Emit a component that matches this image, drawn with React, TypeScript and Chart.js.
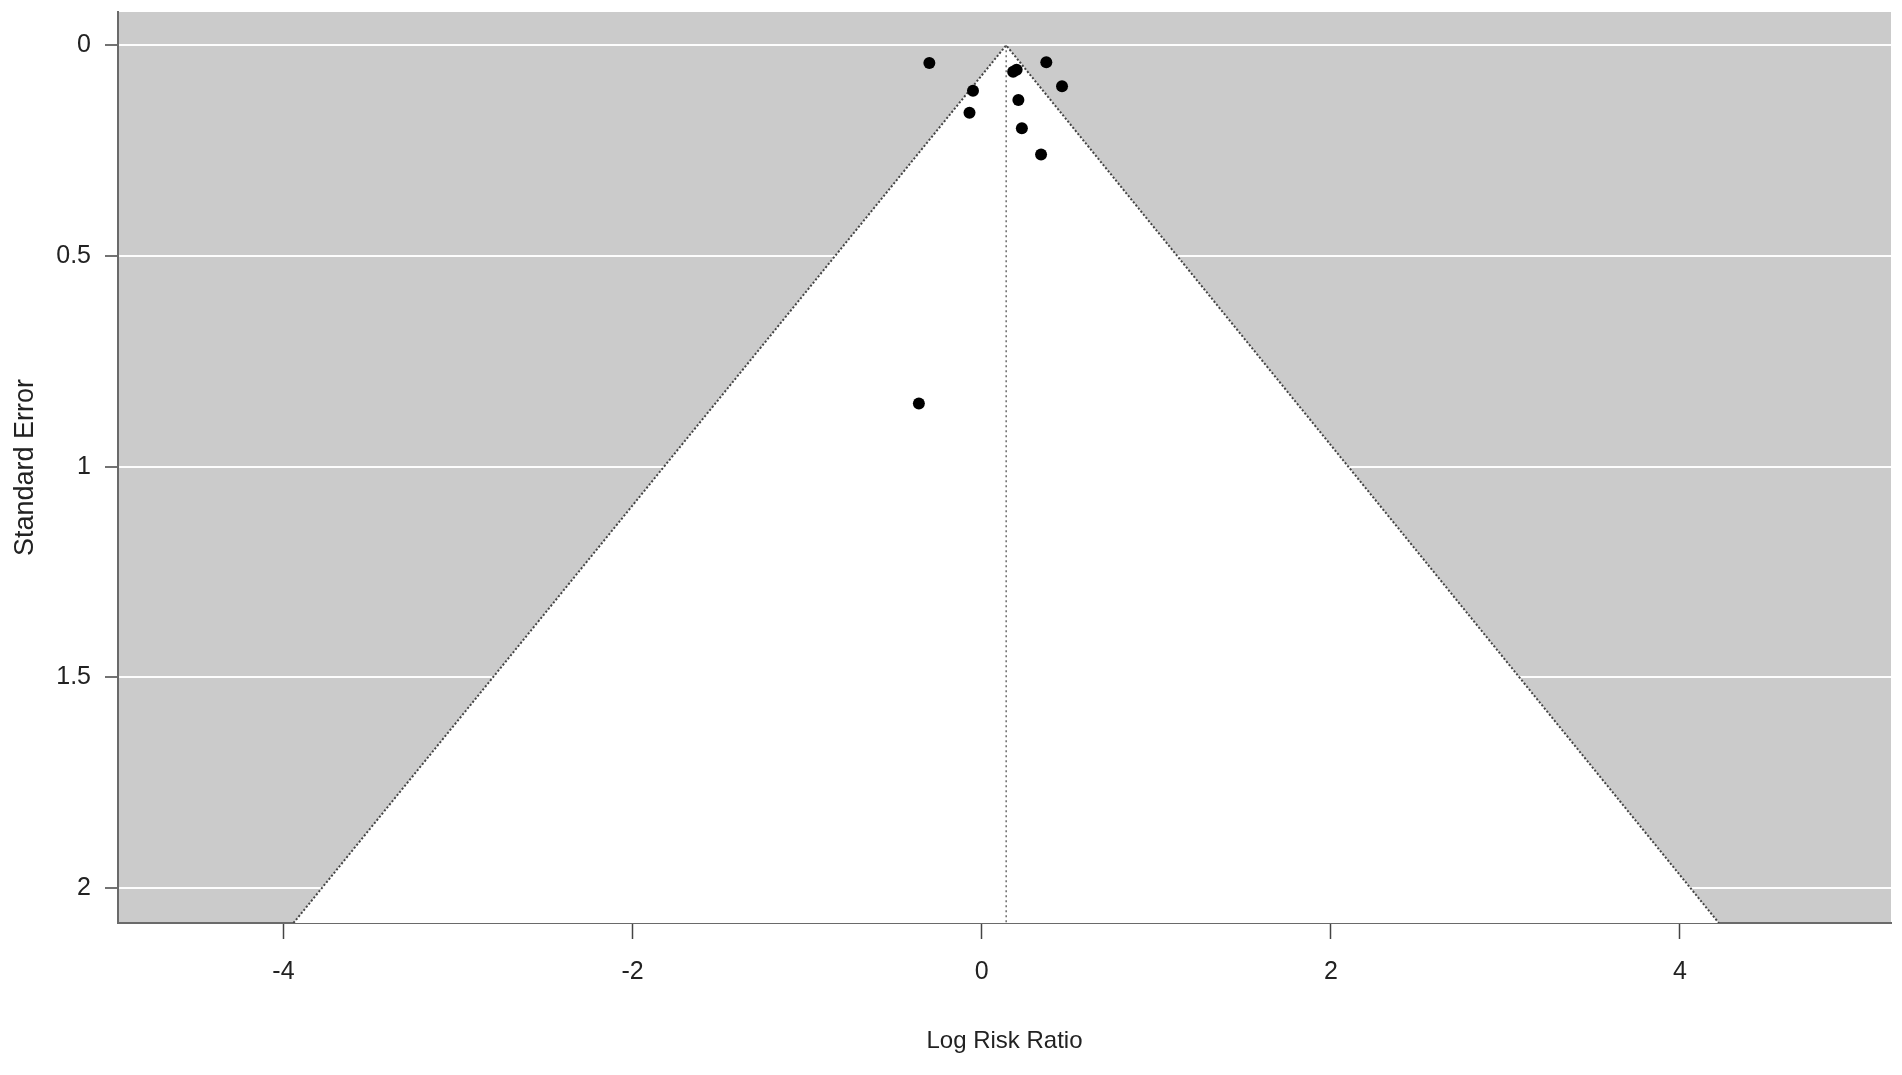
import React, { useEffect, useRef } from 'react';
import { Chart, registerables } from 'chart.js';

Chart.register(...registerables);

// Study estimates
const LOG_RISK_RATIO = [-0.3, 0.37, 0.18, 0.2, 0.46, -0.05, -0.07, 0.21, 0.23, 0.34, -0.36];
const STANDARD_ERROR = [0.042, 0.04, 0.063, 0.058, 0.097, 0.108, 0.16, 0.13, 0.197, 0.259, 0.85];

const X_TICKS = [-4, -2, 0, 2, 4];
const Y_TICKS = [0, 0.5, 1, 1.5, 2];
const X_LABELS = ['-4', '-2', '0', '2', '4'];
const Y_LABELS = ['0', '0.5', '1', '1.5', '2'];

const POOLED_ESTIMATE = 0.14;
const Z_CRIT = 1.96;
const X_MIN = -4.948;
const X_MAX = 5.209;
const Y_MIN = -0.079;
const Y_MAX = 2.083;

const FONT = "'Liberation Sans Narrow', 'Liberation Sans', Arial, sans-serif";

const bgPlugin = {
  id: 'plotBg',
  beforeDraw(chart: any) {
    const { ctx, chartArea: a, width, height } = chart;
    ctx.save();
    ctx.fillStyle = '#ffffff';
    ctx.fillRect(0, 0, width, height);
    ctx.fillStyle = '#cbcbcb';
    ctx.fillRect(a.left, a.top, a.right - a.left, a.bottom - a.top);
    ctx.restore();
  },
};

export default function App() {
  const ref = useRef<HTMLCanvasElement | null>(null);

  useEffect(() => {
    if (!ref.current) return;
    const points = LOG_RISK_RATIO.map((x, i) => ({ x, y: STANDARD_ERROR[i] }));
    const funnel = [
      { x: POOLED_ESTIMATE - Z_CRIT * Y_MAX, y: Y_MAX },
      { x: POOLED_ESTIMATE, y: 0 },
      { x: POOLED_ESTIMATE + Z_CRIT * Y_MAX, y: Y_MAX },
    ];
    const centerLine = [
      { x: POOLED_ESTIMATE, y: 0 },
      { x: POOLED_ESTIMATE, y: Y_MAX },
    ];

    const chart = new Chart(ref.current, {
      type: 'scatter',
      data: {
        datasets: [
          {
            label: 'Studies',
            data: points,
            backgroundColor: '#000000',
            borderWidth: 0,
            pointRadius: 6,
            pointHoverRadius: 6,
            order: 0,
          },
          {
            label: 'Center',
            data: centerLine,
            showLine: true,
            borderColor: '#555555',
            borderWidth: 1.3,
            borderDash: [2, 3],
            pointRadius: 0,
            fill: false,
            order: 1,
          },
          {
            label: 'Funnel',
            data: funnel,
            showLine: true,
            borderColor: '#444444',
            borderWidth: 2,
            borderDash: [2, 2],
            backgroundColor: '#ffffff',
            pointRadius: 0,
            fill: 'shape',
            tension: 0,
            order: 2,
          } as any,
        ],
      },
      options: {
        animation: false,
        responsive: true,
        maintainAspectRatio: false,
        layout: { padding: { top: 12, right: 11, left: 0, bottom: 0 } },
        plugins: {
          legend: { display: false },
          tooltip: { enabled: false },
        },
        scales: {
          x: {
            type: 'linear',
            min: X_MIN,
            max: X_MAX,
            afterBuildTicks: (scale: any) => {
              scale.ticks = X_TICKS.map((v) => ({ value: v }));
            },
            afterFit: (scale: any) => {
              scale.height = 152;
              scale.paddingLeft = 0;
              scale.paddingRight = 0;
            },
            ticks: {
              callback: (v: any) => X_LABELS[X_TICKS.indexOf(Number(v))] ?? '',
              font: { family: FONT, size: 25 },
              color: '#222222',
              padding: 18,
              maxRotation: 0,
              autoSkip: false,
            },
            grid: {
              drawOnChartArea: false,
              drawTicks: true,
              tickLength: 16,
              tickColor: '#444444',
              tickWidth: 1.5,
            },
            border: { display: true, color: '#6a6a6a', width: 2 },
            title: {
              display: true,
              text: 'Log Risk Ratio',
              font: { family: FONT, size: 24 },
              color: '#222222',
              padding: { top: 0, bottom: 19 },
            },
          },
          y: {
            type: 'linear',
            reverse: true,
            min: Y_MIN,
            max: Y_MAX,
            afterBuildTicks: (scale: any) => {
              scale.ticks = Y_TICKS.map((v) => ({ value: v }));
            },
            afterFit: (scale: any) => {
              scale.width = 118;
              scale.paddingTop = 0;
              scale.paddingBottom = 0;
            },
            ticks: {
              callback: (v: any) => Y_LABELS[Y_TICKS.indexOf(Number(v))] ?? '',
              font: { family: FONT, size: 25 },
              color: '#222222',
              padding: 14,
              autoSkip: false,
            },
            grid: {
              color: 'rgba(255,255,255,0.95)',
              lineWidth: 2,
              drawTicks: true,
              tickLength: 13,
              tickColor: '#444444',
              tickWidth: 1.5,
            },
            border: { display: true, color: '#6a6a6a', width: 2 },
            title: {
              display: true,
              text: 'Standard Error',
              font: { family: "'Liberation Sans', Arial, sans-serif", size: 27 },
              color: '#222222',
              padding: { top: 9, bottom: 0 },
            },
          },
        },
      },
      plugins: [bgPlugin],
    });

    return () => chart.destroy();
  }, []);

  return (
    <div
      style={{
        position: 'fixed',
        left: 0,
        top: 0,
        width: 1902,
        height: 1075,
        background: '#ffffff',
      }}
    >
      <canvas ref={ref} />
    </div>
  );
}
